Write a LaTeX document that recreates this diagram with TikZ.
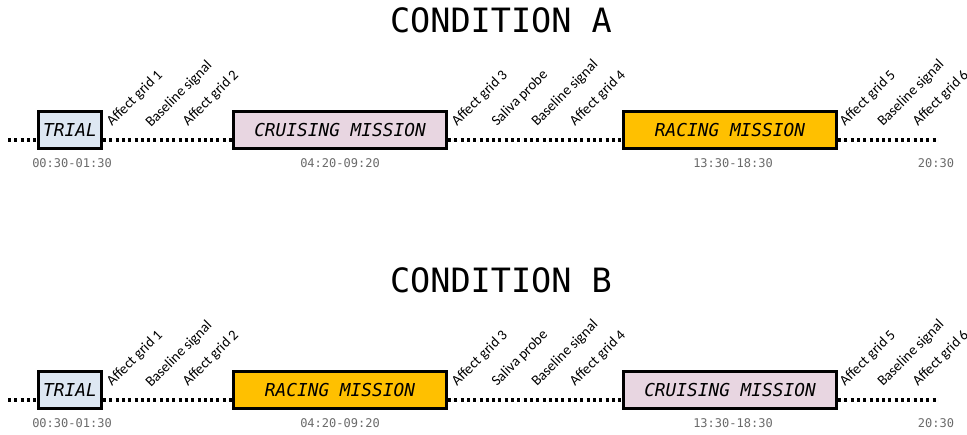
\documentclass[tikz,border=0pt]{standalone}
\usepackage{fontspec}
\newfontfamily\monofont{DejaVu Sans Mono}
\newfontfamily\labelfont{Carlito}
\usetikzlibrary{positioning}
\definecolor{trialblue}{HTML}{DDE7F2}
\definecolor{cruisepink}{HTML}{E8D6E1}
\definecolor{racegold}{HTML}{FFC000}
\definecolor{timegray}{HTML}{6A6A6A}

\begin{document}
\begin{tikzpicture}[x=1pt,y=-1pt,
    phase/.style={draw=black,line width=3pt,minimum height=37pt,inner sep=0pt,
      font=\monofont\itshape\fontsize{17.8}{18}\selectfont},
    timeline/.style={line width=3.2pt,dash pattern=on 3pt off 3.3pt},
    event/.style={rotate=45,anchor=base west,inner sep=0pt,
      font=\labelfont\fontsize{14.6}{15}\selectfont},
    clock/.style={text=timegray,inner sep=0pt,font=\monofont\fontsize{12}{12}\selectfont},
    heading/.style={inner sep=0pt,font=\monofont\fontsize{33.5}{34}\selectfont}]
      \useasboundingbox (0,0) rectangle (967,434);
      % condition A
      \node[heading] (condA) at (501,20) {CONDITION A};
      \node[phase,fill=trialblue,minimum width=63pt] (trialA) at (70,130) {TRIAL};
      \node[phase,fill=cruisepink,minimum width=213pt] (cruiseA) at (340,130) {CRUISING MISSION};
      \node[phase,fill=racegold,minimum width=213pt] (raceA) at (730,130) {RACING MISSION};
      \coordinate (startA) at (8,140);
      \coordinate (endA) at (937,140);
      \draw[timeline] (startA) to (trialA.west |- startA);
      \draw[timeline] (trialA.east |- startA) to (cruiseA.west |- startA);
      \draw[timeline] (cruiseA.east |- startA) to (raceA.west |- startA);
      \draw[timeline] (raceA.east |- startA) to (endA);
      \node[clock] (timeA1) at (72,163) {00:30-01:30};
      \node[clock] (timeA2) at (340,163) {04:20-09:20};
      \node[clock] (timeA3) at (733,163) {13:30-18:30};
      \node[clock] (timeA4) at (936,163) {20:30};
      \node[event] (evA1) at (112,127) {Affect grid 1};
      \node[event] (evA2) at (151,128) {Baseline signal};
      \node[event] (evA3) at (188,127) {Affect grid 2};
      \node[event] (evA4) at (457,127) {Affect grid 3};
      \node[event] (evA5) at (497,127) {Saliva probe};
      \node[event] (evA6) at (537,127) {Baseline signal};
      \node[event] (evA7) at (575,127) {Affect grid 4};
      \node[event] (evA8) at (845,127) {Affect grid 5};
      \node[event] (evA9) at (883,127) {Baseline signal};
      \node[event] (evA10) at (918,127) {Affect grid 6};
      % condition B
      \node[heading] (condB) at (501,280) {CONDITION B};
      \node[phase,fill=trialblue,minimum width=63pt] (trialB) at (70,390) {TRIAL};
      \node[phase,fill=racegold,minimum width=213pt] (raceB) at (340,390) {RACING MISSION};
      \node[phase,fill=cruisepink,minimum width=213pt] (cruiseB) at (730,390) {CRUISING MISSION};
      \coordinate (startB) at (8,400);
      \coordinate (endB) at (937,400);
      \draw[timeline] (startB) to (trialB.west |- startB);
      \draw[timeline] (trialB.east |- startB) to (raceB.west |- startB);
      \draw[timeline] (raceB.east |- startB) to (cruiseB.west |- startB);
      \draw[timeline] (cruiseB.east |- startB) to (endB);
      \node[clock] (timeB1) at (72,423) {00:30-01:30};
      \node[clock] (timeB2) at (340,423) {04:20-09:20};
      \node[clock] (timeB3) at (733,423) {13:30-18:30};
      \node[clock] (timeB4) at (936,423) {20:30};
      \node[event] (evB1) at (112,387) {Affect grid 1};
      \node[event] (evB2) at (151,388) {Baseline signal};
      \node[event] (evB3) at (188,387) {Affect grid 2};
      \node[event] (evB4) at (457,387) {Affect grid 3};
      \node[event] (evB5) at (497,387) {Saliva probe};
      \node[event] (evB6) at (537,387) {Baseline signal};
      \node[event] (evB7) at (575,387) {Affect grid 4};
      \node[event] (evB8) at (845,387) {Affect grid 5};
      \node[event] (evB9) at (883,387) {Baseline signal};
      \node[event] (evB10) at (918,387) {Affect grid 6};
    \end{tikzpicture}
\end{document}
